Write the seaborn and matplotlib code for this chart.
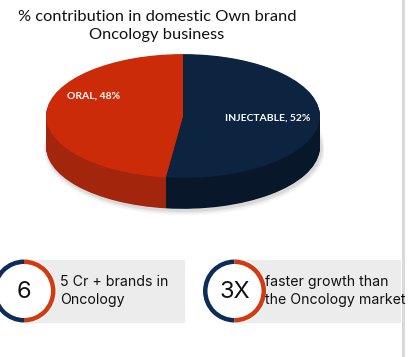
import matplotlib
matplotlib.use('Agg')
import matplotlib.pyplot as plt
import seaborn as sns
from matplotlib.patches import Rectangle, Wedge, Circle, Ellipse

sns.set_theme(style='white')
plt.rcParams['font.family'] = ['Lato', 'DejaVu Sans']

# pie data
labels = ['INJECTABLE', 'ORAL']
shares = [52, 48]
top_colors = ['#0c2440', '#cc2b09']
side_colors = ['#09172a', '#a3260c']

# highlight cards
card_numbers = ['6', '3X']
card_texts = ['5 Cr + brands in\nOncology', 'faster growth than\nthe Oncology market']

fig = plt.figure(figsize=(4.11, 3.57), dpi=100)
fig.patch.set_facecolor('white')

# background axes in pixel units for the cards
bg = fig.add_axes([0, 0, 1, 1])
bg.set_xlim(0, 411)
bg.set_ylim(357, 0)
bg.axis('off')
bg.add_patch(Rectangle((401.5, 0), 3.5, 357, color='#d9d9d9', lw=0))

# title
fig.text(157 / 411, 1 - 26 / 357, '% contribution in domestic Own brand\nOncology business',
         ha='center', va='center', fontsize=11.8, color='#111111', linespacing=1.3)

# 3D-looking pie: squashed axes + stacked layers for the side
ax = fig.add_axes([42 / 411, 142 / 357, 282 / 411, 164 / 357])
depth = 0.5
n_layers = 50

# soft shadow under the pie
for grow, alpha in [(0.06, 0.06), (0.035, 0.08), (0.015, 0.1)]:
    ax.add_patch(Ellipse((0.01, -depth - 0.03), 2 + grow, 2 + grow * 2.5,
                         color='#555555', alpha=alpha, lw=0, zorder=0))

for k in range(n_layers, 0, -1):
    off = depth * k / n_layers
    ax.pie(shares, colors=side_colors, startangle=90, counterclock=False,
           center=(0, -off), radius=1, wedgeprops=dict(linewidth=0))

wedges, texts = ax.pie(shares, colors=top_colors, startangle=90, counterclock=False,
                       labels=[f'{l}, {s}%' for l, s in zip(labels, shares)],
                       labeldistance=0.62, radius=1,
                       wedgeprops=dict(linewidth=0),
                       textprops=dict(color='white', fontweight='bold', fontsize=7.5))
for t in texts:
    t.set_ha('center')
texts[1].set_position((-0.65, 0.32))

ax.set_aspect('auto')
ax.set_xlim(-1.03, 1.03)
ax.set_ylim(-1.6, 1.05)
ax.axis('off')

# cards
ring_cx = [24, 234.5]
text_x = [60, 265]
box_right = [185, 401]
cy = 291
for num, txt, cx, tx, right in zip(card_numbers, card_texts, ring_cx, text_x, box_right):
    bg.add_patch(Rectangle((cx, 259.5), right - cx, 63.5, color='#ececec', lw=0))
    bg.add_patch(Circle((cx, cy), 32.5, color='white', lw=0))
    bg.add_patch(Wedge((cx, cy), 31.5, 90, 270, width=4.5, color='#0c2d57', lw=0))
    bg.add_patch(Wedge((cx, cy), 31.5, -90, 90, width=4.5, color='#d13a12', lw=0))
    bg.text(cx, cy + 1, num, ha='center', va='center', fontsize=17, color='#111111',
            family=['Inter', 'DejaVu Sans'])
    bg.text(tx, cy, txt, ha='left', va='center', fontsize=10.2, color='#111111',
            linespacing=1.3, family=['Inter', 'DejaVu Sans'])

fig.savefig('out.png', dpi=100, facecolor='white')
